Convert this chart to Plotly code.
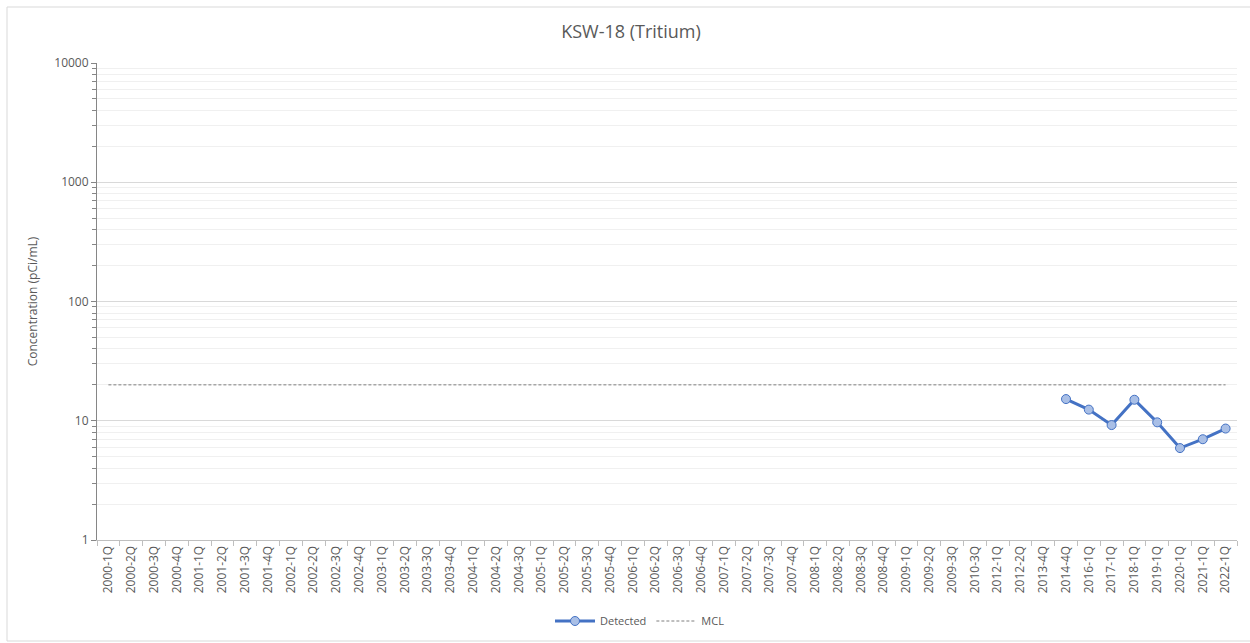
import plotly.graph_objects as go

# Sampling quarters shown on the category axis
quarters = (
    [f"{y}-{q}Q" for y in range(2000, 2004) for q in range(1, 5)]
    + ["2004-1Q", "2004-2Q", "2004-3Q",
       "2005-1Q", "2005-2Q", "2005-3Q", "2005-4Q",
       "2006-1Q", "2006-2Q", "2006-3Q", "2006-4Q",
       "2007-1Q", "2007-2Q", "2007-3Q", "2007-4Q",
       "2008-1Q", "2008-2Q", "2008-3Q", "2008-4Q",
       "2009-1Q", "2009-2Q", "2009-3Q", "2010-3Q",
       "2012-1Q", "2012-2Q", "2013-4Q",
       "2014-4Q", "2016-1Q", "2017-1Q", "2018-1Q",
       "2019-1Q", "2020-1Q", "2021-1Q", "2022-1Q"]
)

# Detected tritium results (pCi/mL)
detected_quarters = ["2014-4Q", "2016-1Q", "2017-1Q", "2018-1Q",
                     "2019-1Q", "2020-1Q", "2021-1Q", "2022-1Q"]
detected_values = [15.2, 12.4, 9.2, 15.0, 9.7, 5.9, 7.0, 8.6]

# Maximum contaminant level
mcl_value = 20

detected_map = dict(zip(detected_quarters, detected_values))
detected_series = [detected_map.get(q) for q in quarters]
mcl_series = [mcl_value] * len(quarters)

fig = go.Figure()
fig.add_trace(go.Scatter(
    x=quarters, y=detected_series, name="Detected",
    mode="lines+markers", connectgaps=False,
    line=dict(color="#4472C4", width=3),
    marker=dict(size=9, color="#A9BFE6", line=dict(color="#4472C4", width=1)),
))
fig.add_trace(go.Scatter(
    x=quarters, y=mcl_series, name="MCL",
    mode="lines",
    line=dict(color="#7F7F7F", width=1, dash="3px,2px"),
))

grey = "#595959"
fig.update_layout(
    width=1250, height=643,
    paper_bgcolor="white", plot_bgcolor="white",
    margin=dict(l=97, r=13, t=63, b=103, autoexpand=False),
    font=dict(family="Open Sans, Liberation Sans, sans-serif", color=grey, size=11),
    title=dict(text="KSW-18 (Tritium)", xref="container", x=631 / 1250, xanchor="center",
               yref="container", y=1 - 32 / 643, yanchor="middle",
               font=dict(size=18, color=grey)),
    showlegend=True,
    legend=dict(orientation="h", xref="container", x=640 / 1250, xanchor="center",
                yref="container", y=(643 - 621) / 643, yanchor="middle",
                font=dict(size=11, color=grey), itemwidth=40),
    shapes=[
        dict(type="line", xref="paper", yref="paper",
             x0=-90 / 1140, x1=-90 / 1140, y0=(540 - 7) / 477, y1=(540 - 641) / 477,
             line=dict(color="#D9D9D9", width=1)),
        dict(type="line", xref="paper", yref="paper",
             x0=-90 / 1140, x1=1160 / 1140, y0=(540 - 7) / 477, y1=(540 - 7) / 477,
             line=dict(color="#D9D9D9", width=1)),
        dict(type="line", xref="paper", yref="paper",
             x0=-90 / 1140, x1=1160 / 1140, y0=(540 - 641) / 477, y1=(540 - 641) / 477,
             line=dict(color="#D9D9D9", width=1)),
    ],
)

fig.update_xaxes(
    type="category", categoryorder="array", categoryarray=quarters,
    range=[-0.5, len(quarters) - 0.5], automargin=False,
    tickangle=-90, tickson="boundaries", ticks="outside", ticklen=5,
    tickcolor="#BFBFBF", showline=True, linecolor="#BFBFBF", linewidth=1,
    showgrid=False, tickfont=dict(size=12, color=grey),
)
fig.update_yaxes(
    type="log", range=[0, 4], dtick=1, automargin=False,
    tickvals=[1, 10, 100, 1000, 10000],
    ticktext=["1", "10", "100", "1000", "10000"],
    ticks="outside", ticklen=5, tickcolor="#868686",
    showline=True, linecolor="#868686", linewidth=1,
    showgrid=True, gridcolor="#D9D9D9", gridwidth=1,
    minor=dict(dtick="D1", showgrid=True, gridcolor="#F0F0F0",
               ticks="outside", ticklen=4, tickcolor="#868686"),
    title=dict(text="Concentration (pCi/mL)", font=dict(size=12, color=grey), standoff=14),
    tickfont=dict(size=12, color=grey),
    zeroline=False,
)

fig.write_html("out.html")
